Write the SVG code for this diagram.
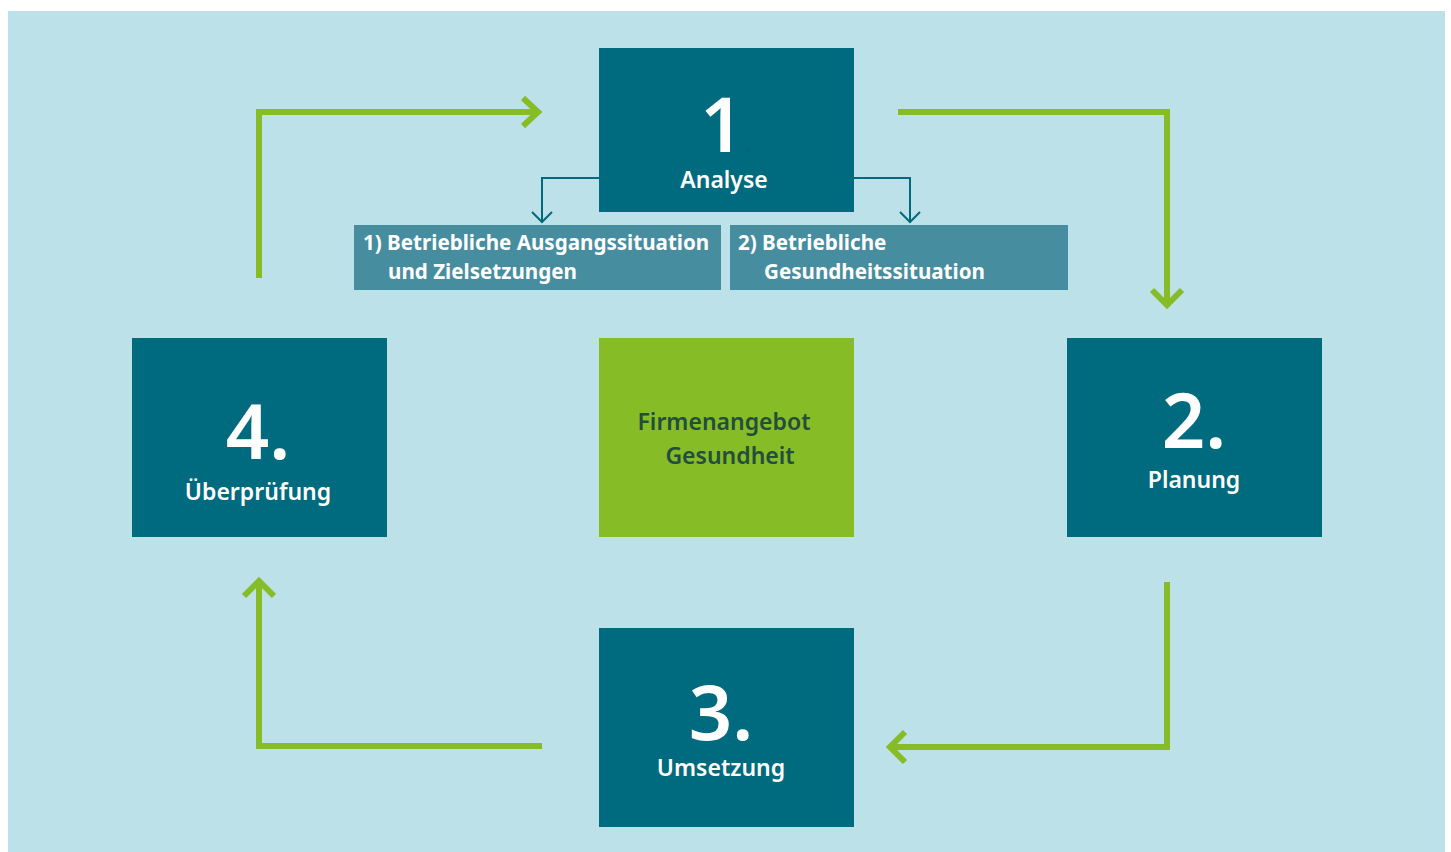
<svg xmlns="http://www.w3.org/2000/svg" width="1451" height="852" viewBox="0 0 1451 852">
<defs>
<style>
.node{fill:#006a7e}
.sub{fill:#468e9f}
.center{fill:#86bc25}
.num{font-family:"Noto Sans","Open Sans",sans-serif;font-size:76px;font-weight:600;fill:#ffffff;text-anchor:middle}
.lbl{font-family:"Noto Sans","Open Sans",sans-serif;font-size:23px;font-weight:600;fill:#ffffff;text-anchor:middle}
.subt{font-family:"Noto Sans","Open Sans",sans-serif;font-size:20.6px;font-weight:700;fill:#ffffff}
.ctr{font-family:"Noto Sans","Open Sans",sans-serif;font-size:23px;font-weight:600;fill:#234d3c;text-anchor:middle}
.g{fill:none;stroke:#86bc25;stroke-width:6}
.t{fill:none;stroke:#006a7e;stroke-width:2}
</style>
</defs>
<rect x="8" y="11" width="1437" height="841" fill="#bde1e8"/>
<g id="connectors">
<path class="g" d="M259,278 V112 H535"/>
<path class="g" d="M523,98 L538,112 L523,126"/>
<path class="g" d="M898,112 H1167 V305"/>
<path class="g" d="M1152,290 L1167,305 L1182,290"/>
<path class="g" d="M1167,582 V747 H890"/>
<path class="g" d="M905,732 L890,747 L905,762"/>
<path class="g" d="M542,746 H259 V581"/>
<path class="g" d="M244,596 L259,581 L274,596"/>
<path class="t" d="M599,178 H542 V222"/>
<path class="t" d="M532,212 L542,222 L552,212"/>
<path class="t" d="M854,178 H910 V222"/>
<path class="t" d="M900,212 L910,222 L920,212"/>
</g>
<g id="node1">
<rect class="node" x="599" y="48" width="255" height="164"/>
<text class="num" x="722" y="152">1</text>
<text x="747" y="151" font-family="Noto Sans, sans-serif" font-size="7" fill="#333">.</text>
<text class="lbl" x="724" y="188">Analyse</text>
</g>
<g id="sub1">
<rect class="sub" x="354" y="225" width="367" height="65"/>
<text class="subt" x="363" y="250">1) Betriebliche Ausgangssituation</text>
<text class="subt" x="388" y="279">und Zielsetzungen</text>
</g>
<g id="sub2">
<rect class="sub" x="730" y="225" width="338" height="65"/>
<text class="subt" x="738" y="250">2) Betriebliche</text>
<text class="subt" x="764" y="279">Gesundheitssituation</text>
</g>
<g id="node2">
<rect class="node" x="1067" y="338" width="255" height="199"/>
<text class="num" x="1194" y="448">2.</text>
<text class="lbl" x="1194" y="488">Planung</text>
</g>
<g id="node3">
<rect class="node" x="599" y="628" width="255" height="199"/>
<text class="num" x="721" y="740">3.</text>
<text class="lbl" x="721" y="776">Umsetzung</text>
</g>
<g id="node4">
<rect class="node" x="132" y="338" width="255" height="199"/>
<text class="num" x="258" y="459">4.</text>
<text class="lbl" x="258" y="500">Überprüfung</text>
</g>
<g id="center">
<rect class="center" x="599" y="338" width="255" height="199"/>
<text class="ctr" x="724" y="430">Firmenangebot</text>
<text class="ctr" x="730" y="464">Gesundheit</text>
</g>
</svg>
